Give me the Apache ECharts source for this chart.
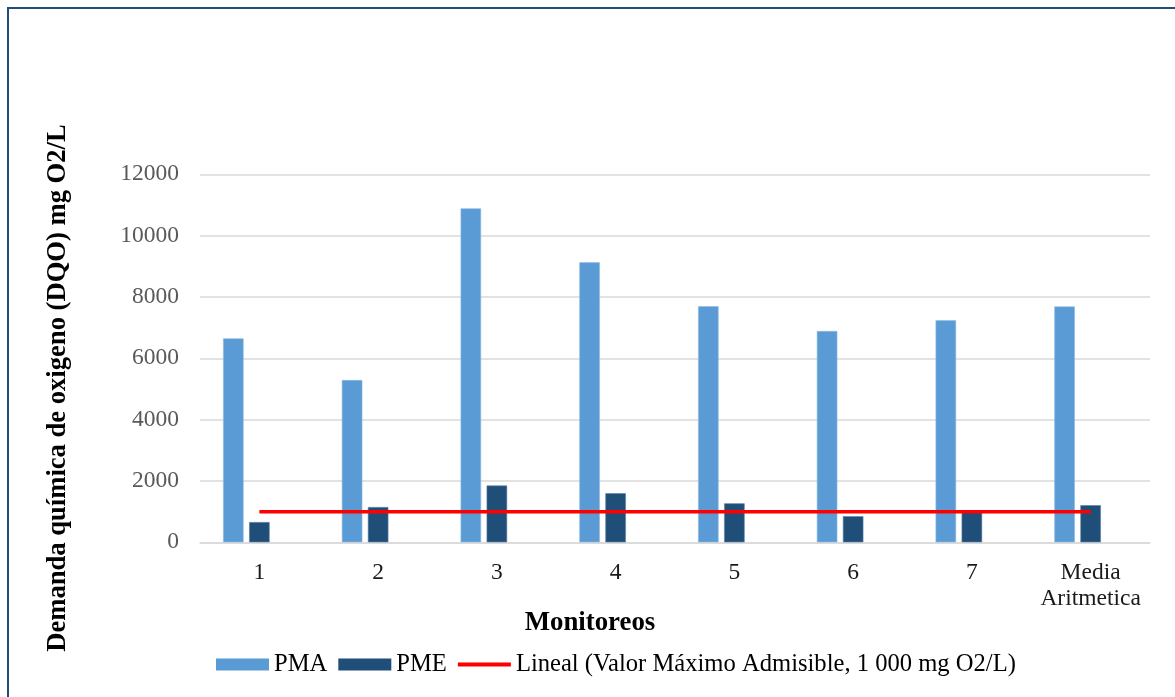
<!DOCTYPE html>
<html>
<head>
<meta charset="utf-8">
<title>DQO</title>
<script src="https://cdn.jsdelivr.net/npm/echarts@6/dist/echarts.min.js"></script>
<style>
  html, body { margin: 0; padding: 0; background: #fff; }
  #chart { width: 1175px; height: 697px; }
</style>
</head>
<body>
<div id="chart"></div>
<script>
// Monitoring rounds on the category axis
const categories = ['1', '2', '3', '4', '5', '6', '7', 'Media\nAritmetica'];
// Chemical oxygen demand, mg O2/L
const pmaValues = [6650, 5290, 10890, 9130, 7700, 6890, 7240, 7690];
const pmeValues = [660, 1150, 1850, 1600, 1270, 850, 990, 1210];
// Maximum admissible value, 1 000 mg O2/L
const limitValues = [1000, 1000, 1000, 1000, 1000, 1000, 1000, 1000];
// Value axis ticks
const yTicks = { min: 0, max: 12000, interval: 2000 };

const serif = '"Liberation Serif", "DejaVu Serif", serif';
const chart = echarts.init(document.getElementById('chart'), null, { renderer: 'canvas' });

chart.setOption({
  animation: false,
  backgroundColor: '#ffffff',
  grid: { left: 200, right: 25, top: 174.3, bottom: 154.7, containLabel: false },
  legend: {
    left: 216,
    top: 652,
    padding: 0,
    itemWidth: 53,
    itemHeight: 12,
    itemGap: 11,
    symbolKeepAspect: true,
    itemStyle: { borderWidth: 0 },
    textStyle: { fontFamily: serif, fontSize: 24.6, color: '#000' },
    data: [
      { name: 'PMA', icon: 'rect' },
      { name: 'PME', icon: 'rect' },
      { name: 'Lineal (Valor Máximo Admisible, 1 000 mg O2/L)', icon: 'path://M0,0 L54,0 L54,4 L0,4 Z' }
    ]
  },
  xAxis: {
    type: 'category',
    data: categories,
    axisLine: { show: true, lineStyle: { color: '#d9d9d9', width: 1.5 } },
    axisTick: { show: false },
    axisLabel: {
      fontFamily: serif, fontSize: 23.5, color: '#1a1a1a',
      margin: 18, lineHeight: 26, interval: 0
    }
  },
  yAxis: {
    type: 'value',
    min: yTicks.min,
    max: yTicks.max,
    interval: yTicks.interval,
    axisLine: { show: false },
    axisTick: { show: false },
    axisLabel: {
      fontFamily: serif, fontSize: 23.5, color: '#595959', margin: 21,
      padding: [5, 0, 0, 0],
      formatter: (v) => String(v)
    },
    splitLine: { lineStyle: { color: '#d9d9d9', width: 1.5 } }
  },
  graphic: [
    {
      type: 'rect',
      shape: { x: 8, y: 8, width: 1200, height: 800 },
      style: { fill: 'none', stroke: '#1f4e79', lineWidth: 2 },
      silent: true
    },
    {
      type: 'text',
      x: 590, y: 623,
      style: {
        text: 'Monitoreos', fontFamily: serif, fontSize: 26.8, fontWeight: 'bold',
        fill: '#000', align: 'center', verticalAlign: 'middle'
      }
    },
    {
      type: 'text',
      x: 58, y: 388,
      rotation: Math.PI / 2,
      style: {
        text: 'Demanda química de oxigeno (DQO) mg O2/L', fontFamily: serif, fontSize: 26.6,
        fontWeight: 'bold', fill: '#000', align: 'center', verticalAlign: 'middle'
      }
    }
  ],
  series: [
    {
      name: 'PMA',
      type: 'bar',
      data: pmaValues,
      barWidth: 20.5,
      barGap: '27%',
      itemStyle: { color: '#5b9bd5', borderColor: '#8fbbe3', borderWidth: 0.6 }
    },
    {
      name: 'PME',
      type: 'bar',
      data: pmeValues,
      barWidth: 20.5,
      barGap: '27%',
      itemStyle: { color: '#1f4e79', borderColor: '#5a7fa3', borderWidth: 0.6 }
    },
    {
      // unfilled columns of the limit series (they keep their slot in each group)
      name: 'Valor Máximo Admisible',
      type: 'bar',
      data: limitValues,
      barWidth: 20.5,
      barGap: '27%',
      silent: true,
      itemStyle: { color: 'rgba(0,0,0,0)' }
    },
    {
      name: 'Lineal (Valor Máximo Admisible, 1 000 mg O2/L)',
      type: 'line',
      data: limitValues,
      showSymbol: false,
      symbol: 'none',
      lineStyle: { color: '#ff0000', width: 3.5 },
      itemStyle: { color: '#ff0000' },
      z: 5
    }
  ]
});
</script>
</body>
</html>
